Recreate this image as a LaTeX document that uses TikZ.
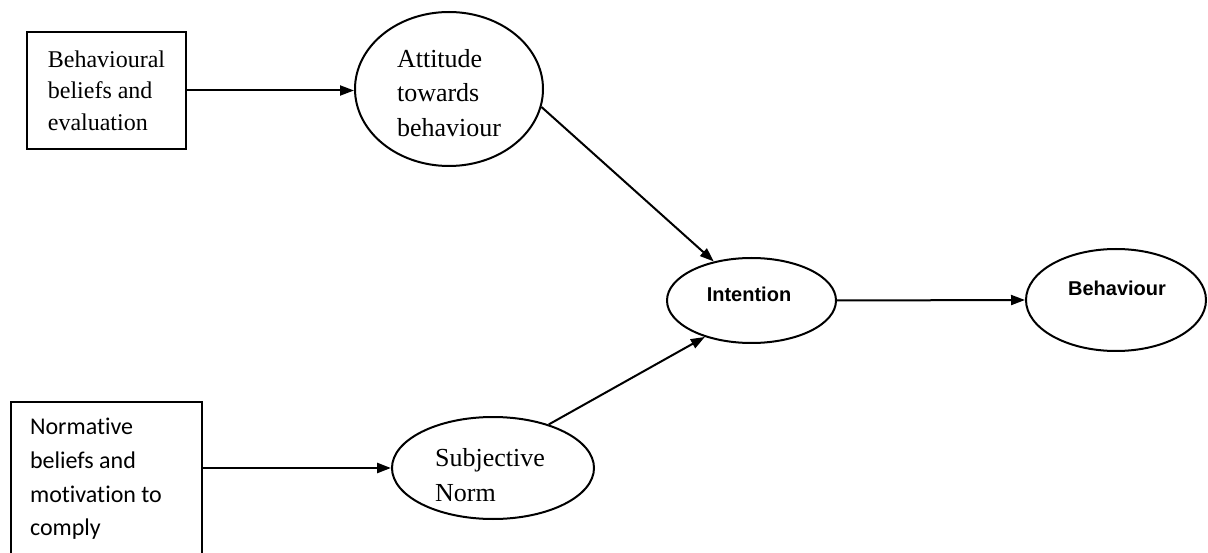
\documentclass[tikz,border=0pt]{standalone}
\usepackage{fontspec}
\setmainfont{Liberation Serif}
\newfontfamily\arialf{Liberation Sans}
\newfontfamily\calf[Ligatures=NoCommon]{Carlito}
\usetikzlibrary{shapes.geometric,arrows.meta}
\begin{document}
\begin{tikzpicture}[x=1pt,y=-1pt,
  boxnode/.style={draw,line width=2.6pt,rectangle,inner sep=0pt},
  ovalnode/.style={draw,line width=2pt,ellipse,inner sep=0pt},
  txt/.style={inner sep=0pt,align=left},
  conn/.style={line width=2pt,-{Triangle[length=14pt,width=10pt]}}]
\useasboundingbox (0,0) rectangle (1208,553);
\clip (0,0) rectangle (1208,553);
% boxes
\node[boxnode,minimum width=159pt,minimum height=117pt,align=left,
  font=\fontsize{24}{31.5}\selectfont] (b1) at (106.5,90.5)
  {Behavioural\\beliefs and\\evaluation};
\node[boxnode,line width=2pt,minimum width=191pt,minimum height=168pt] (b2) at (106.5,486) {};
\node[txt,font=\calf\fontsize{24}{33.7}\selectfont] (b2t) at (96,479)
  {Normative\\beliefs and\\motivation to\\comply};
% ellipses
\node[ovalnode,minimum width=188pt,minimum height=154pt] (att) at (449,89) {};
\node[txt,font=\fontsize{26}{34.5}\selectfont] (attt) at (449,93)
  {Attitude\\towards\\behaviour};
\node[ovalnode,minimum width=169pt,minimum height=85pt] (int) at (751.5,300.5) {};
\node[txt,font=\arialf\bfseries\fontsize{20}{24}\selectfont] (intt) at (749,294) {Intention};
\node[ovalnode,minimum width=180pt,minimum height=102pt] (beh) at (1116,300) {};
\node[txt,font=\arialf\bfseries\fontsize{20}{24}\selectfont] (beht) at (1117,288) {Behaviour};
\node[ovalnode,minimum width=202pt,minimum height=102pt] (sn) at (493,468) {};
\node[txt,font=\fontsize{26}{35}\selectfont] (snt) at (490,475)
  {Subjective\\Norm};
% connectors
\draw[conn] (b1.east) -- (b1.east -| att.west);
\draw[conn] (att.-11) -- (int.134);
\draw[conn] (sn.38.5) -- (int.218.5);
\draw[conn] (int.east) -- (beh.west);
\draw[conn,line width=2.6pt] (sn.west -| b2.east) -- (sn.west);
\end{tikzpicture}
\end{document}
